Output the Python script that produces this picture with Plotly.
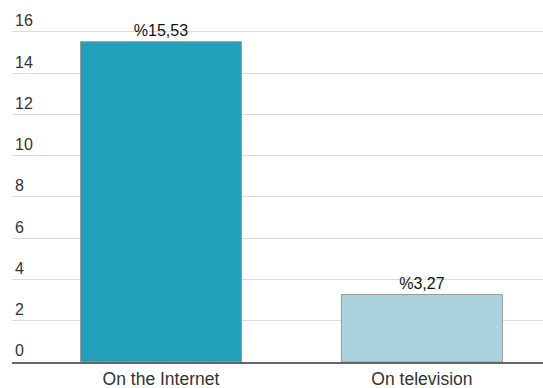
import plotly.graph_objects as go

categories = ["On the Internet", "On television"]
values = [15.53, 3.27]
colors = ["#22a0bb", "#a9d4de"]
labels = ["%" + f"{v:.2f}".replace(".", ",") for v in values]

FONT = "Liberation Sans, Arial, sans-serif"

fig = go.Figure(go.Bar(
    x=categories,
    y=values,
    text=labels,
    textposition="outside",
    textfont=dict(family=FONT, size=16, color="#111"),
    cliponaxis=False,
    marker=dict(color=colors, line=dict(color="#9a9a9a", width=1)),
    width=0.617,
))

fig.update_layout(
    width=543, height=388,
    margin=dict(l=12, r=0, t=0, b=26),
    paper_bgcolor="white", plot_bgcolor="white",
    showlegend=False,
    font=dict(family=FONT, color="#333"),
    xaxis=dict(
        range=[-0.571, 1.464],
        showgrid=False,
        showline=True, linecolor="#666", linewidth=2,
        tickfont=dict(family=FONT, size=17.5, color="#333"),
        ticks="",
        ticklabelstandoff=0,
        automargin=False,
    ),
    yaxis=dict(
        range=[0, 17.55],
        dtick=2,
        showgrid=True, gridcolor="#dcdcdc", gridwidth=1,
        zeroline=False,
        ticklabelposition="inside top",
        tickfont=dict(family=FONT, size=16, color="#333"),
        ticks="",
        automargin=False,
    ),
)

fig.write_html(
    "out.html",
    config={"displayModeBar": False},
    post_script="document.body.style.margin='0';document.body.style.overflow='hidden';",
)
